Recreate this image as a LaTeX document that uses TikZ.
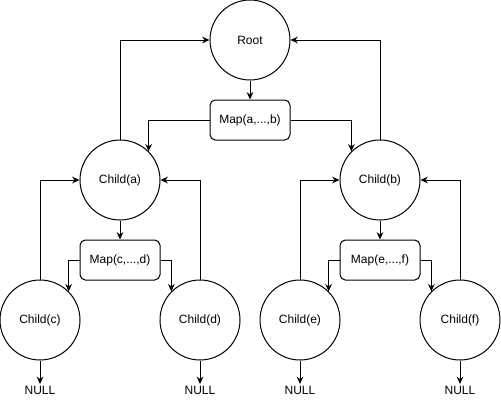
\documentclass[tikz,border=0pt]{standalone}
\usepackage{fontspec}
\setmainfont{Liberation Sans}
\usetikzlibrary{arrows.meta}
\begin{document}
\begin{tikzpicture}[x=0.75pt,y=-0.75pt,line width=0.75pt,font=\fontsize{9}{11}\selectfont,
    knot/.style={draw,circle,minimum size=60pt,inner sep=0pt},
    mapbox/.style={draw,rounded corners=4pt,minimum width=60pt,minimum height=30pt,inner sep=0pt},
    >={Stealth[length=5.5pt,width=5pt]}]
    \useasboundingbox (0,0) rectangle (501,401);
    \node[knot] (root) at (250,40) {Root};
    \node[mapbox] (mapab) at (250,120) {Map(a,...,b)};
    \node[knot] (childa) at (120,180) {Child(a)};
    \node[knot] (childb) at (380,180) {Child(b)};
    \node[mapbox] (mapcd) at (120,260) {Map(c,...,d)};
    \node[mapbox] (mapef) at (380,260) {Map(e,...,f)};
    \node[knot] (childc) at (40,320) {Child(c)};
    \node[knot] (childd) at (200,320) {Child(d)};
    \node[knot] (childe) at (300,320) {Child(e)};
    \node[knot] (childf) at (460,320) {Child(f)};
    \node[inner sep=1pt] (nullc) at (40,390) {NULL};
    \node[inner sep=1pt] (nulld) at (200,390) {NULL};
    \node[inner sep=1pt] (nulle) at (300,390) {NULL};
    \node[inner sep=1pt] (nullf) at (460,390) {NULL};
    % Root
    \draw[->] (root) -- (mapab);
    \draw[->] (mapab.west) -| (childa.north east);
    \draw[->] (mapab.east) -| (childb.north west);
    \draw[->] (childa.north) |- (root.west);
    \draw[->] (childb.north) |- (root.east);
    % Child(a)
    \draw[->] (childa) -- (mapcd);
    \draw[->] (mapcd.west) -| (childc.north east);
    \draw[->] (mapcd.east) -| (childd.north west);
    \draw[->] (childc.north) |- (childa.west);
    \draw[->] (childd.north) |- (childa.east);
    % Child(b)
    \draw[->] (childb) -- (mapef);
    \draw[->] (mapef.west) -| (childe.north east);
    \draw[->] (mapef.east) -| (childf.north west);
    \draw[->] (childe.north) |- (childb.west);
    \draw[->] (childf.north) |- (childb.east);
    % NULL
    \draw[->] (childc) -- (nullc);
    \draw[->] (childd) -- (nulld);
    \draw[->] (childe) -- (nulle);
    \draw[->] (childf) -- (nullf);
\end{tikzpicture}
\end{document}
